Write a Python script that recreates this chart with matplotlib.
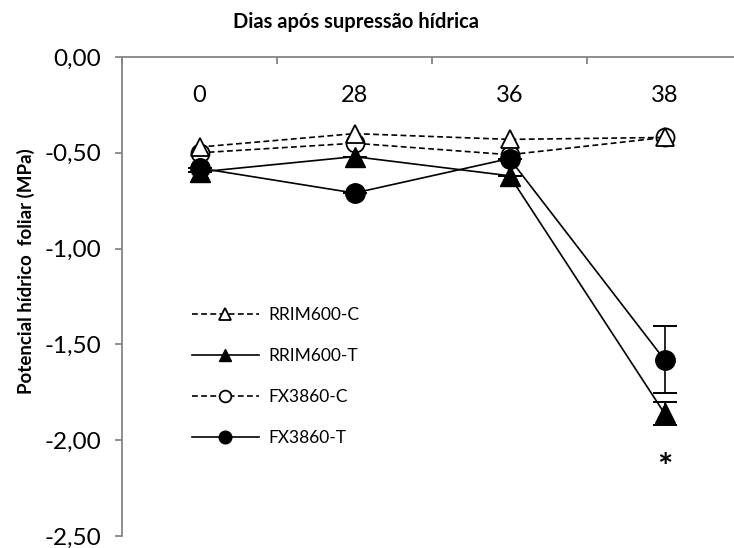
import matplotlib
matplotlib.use("Agg")
import matplotlib.pyplot as plt
import numpy as np

# dias após supressão hídrica
dias = ["0", "28", "36", "38"]

# potencial hídrico foliar (MPa)
rrim600_c = [-0.47, -0.40, -0.43, -0.42]
rrim600_t = [-0.60, -0.52, -0.62, -1.86]
fx3860_c = [-0.50, -0.45, -0.51, -0.42]
fx3860_t = [-0.58, -0.71, -0.53, -1.58]

# desvio (apenas no último dia)
err_rrim600_t = [0, 0, 0, 0.06]
err_fx3860_t = [0, 0, 0, 0.175]

plt.rcParams['font.family'] = ['Lato', 'DejaVu Sans']

fig = plt.figure(figsize=(7.34, 5.48), dpi=100)
ax = fig.add_axes([122 / 734, 12 / 548, 620 / 734, 479 / 548])

x = np.arange(len(dias))
axis_gray = '#868686'

ax.plot(x, rrim600_c, '--', color='black', lw=1.2, dashes=(3.5, 2), zorder=4,
        marker='^', ms=12.5, mfc='white', mec='black', mew=1.3, label='RRIM600-C')
ax.errorbar(x, rrim600_t, yerr=err_rrim600_t, fmt='none', ecolor='black',
            capsize=8.5, elinewidth=1.2, capthick=1.4)
ax.plot(x, rrim600_t, '-', color='black', lw=1.2, zorder=5,
        marker='^', ms=14, mfc='black', mec='black', label='RRIM600-T')
ax.plot(x, fx3860_c, '--', color='black', lw=1.2, dashes=(3.5, 2), zorder=3,
        marker='o', ms=13, mfc='white', mec='black', mew=1.3, label='FX3860-C')
ax.errorbar(x, fx3860_t, yerr=err_fx3860_t, fmt='none', ecolor='black',
            capsize=8.5, elinewidth=1.2, capthick=1.4)
ax.plot(x, fx3860_t, '-', color='black', lw=1.2, zorder=6,
        marker='o', ms=14, mfc='black', mec='black', label='FX3860-T')

ax.text(x[3], -2.15, '*', ha='center', va='center', fontsize=26, fontweight='bold')

ax.set_xlim(-0.5, 3.5)
ax.set_ylim(-2.5, 0)

# category axis at the top, labels drawn inside the plot
ax.xaxis.tick_top()
ax.set_xticks(x)
ax.set_xticklabels(dias, fontsize=17)
ax.tick_params(axis='x', which='major', length=0, pad=-35)
ax.set_xticks(np.arange(-0.5, 4.0, 1.0), minor=True)
ax.tick_params(axis='x', which='minor', direction='in', length=5, width=1.3, color=axis_gray)

yticks = np.arange(0, -2.51, -0.5)
ax.set_yticks(yticks)
ax.set_yticklabels([f'{v:.2f}'.replace('.', ',') for v in yticks], fontsize=17.5)
ax.tick_params(axis='y', direction='out', length=5, width=1.3, color=axis_gray, pad=10)

for side in ['right', 'bottom']:
    ax.spines[side].set_visible(False)
for side in ['left', 'top']:
    ax.spines[side].set_color(axis_gray)
    ax.spines[side].set_linewidth(1.3)

ax.set_ylabel('Potencial hídrico  foliar (MPa)', fontsize=13.5, fontweight='bold')
ax.yaxis.set_label_coords(-0.14, 0.553)
fig.text(356 / 734, 1 - 22 / 548, 'Dias após supressão hídrica', ha='center', va='center',
         fontsize=14.5, fontweight='bold')

ax.legend(loc='upper left', bbox_to_anchor=(176 / 734, 1 - 291 / 548),
          bbox_transform=fig.transFigure, frameon=False, fontsize=12.5,
          handlelength=3.9, handletextpad=0.5, labelspacing=1.45, markerscale=0.65)

fig.savefig('out.png', dpi=100)
